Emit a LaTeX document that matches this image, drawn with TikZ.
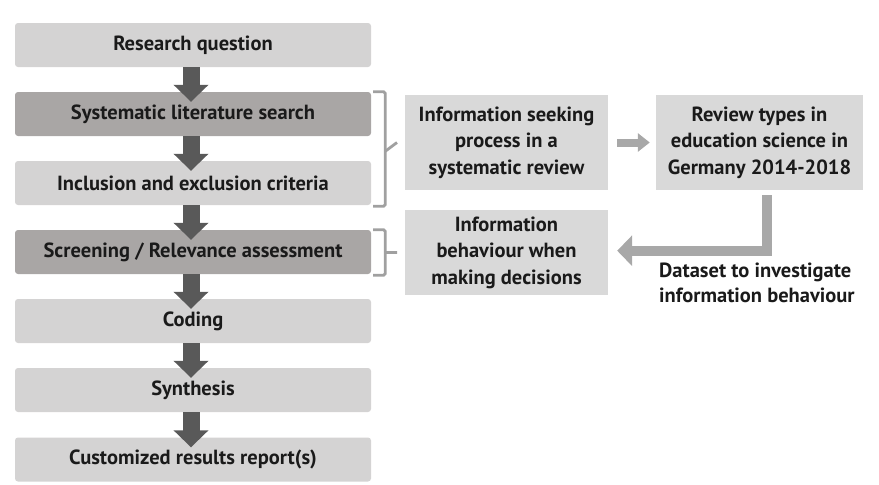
\documentclass[tikz,border=0pt]{standalone}
\usepackage{fontspec}
\setmainfont{PT Sans}
\usetikzlibrary{arrows.meta,calc}
\definecolor{boxlight}{HTML}{D4D3D3}
\definecolor{boxdark}{HTML}{A9A6A5}
\definecolor{boxright}{HTML}{D9D9D9}
\definecolor{arrdark}{HTML}{595959}
\definecolor{arrlight}{HTML}{A8A8A8}
\definecolor{brk}{HTML}{A0A0A0}
\definecolor{txt}{HTML}{1A1A1A}
\begin{document}
\begin{tikzpicture}[x=1pt,y=-1pt,
  every node/.style={font=\fontsize{20.5}{26.5}\selectfont\bfseries, text=txt, inner sep=0pt},
  stepbox/.style={fill=boxlight, rounded corners=3pt, minimum width=356pt, minimum height=44pt},
  darkbox/.style={stepbox, fill=boxdark},
  sidebox/.style={fill=boxright, align=center, minimum width=203pt},
  downarrow/.style={draw=arrdark, line width=17pt, -{Triangle[width=34pt,length=17pt]}},
  brace/.style={draw=brk, line width=2.8pt, rounded corners=1.5pt},
]
\useasboundingbox (0,0) rectangle (879,485);
\node[stepbox] (b1) at (193,45) {Research question};
\node[darkbox] (b2) at (193,114) {Systematic literature search};
\node[stepbox] (b3) at (193,183) {Inclusion and exclusion criteria};
\node[darkbox] (b4) at (193,252) {Screening / Relevance assessment};
\node[stepbox] (b5) at (193,321) {Coding};
\node[stepbox] (b6) at (193,390) {Synthesis};
\node[stepbox] (b7) at (193,459.5) {Customized results report(s)};

\foreach \a/\b in {b1/b2,b2/b3,b3/b4,b4/b5,b5/b6,b6/b7}
  \draw[downarrow] ([xshift=-2pt]\a.south) -- ([xshift=-2pt,yshift=-10pt]\b.north);

\node[sidebox, minimum height=95pt] (ra) at (506.5,142.5) {Information seeking\\process in a\\systematic review};
\node[sidebox, minimum width=207pt, minimum height=95pt] (rb) at (759.5,142.5) {Review types in\\education science in\\Germany 2014-2018};
\node[sidebox, minimum height=85pt] (rc) at (506.5,252.5) {Information\\behaviour when\\making decisions};
\node[align=left, anchor=base west, font=\fontsize{20.5}{25}\selectfont\bfseries] (lab) at (659,302) {Dataset to investigate\\information behaviour};

% brackets
\coordinate (k1a) at ($(b2.north east)+(2,0)$);
\coordinate (k1b) at ($(b3.south east)+(2,1)$);
\draw[brace] (k1a) -- ++(12,0) |- (k1b);
\draw[brace] ($(k1a)!0.52!(k1b)+(12,0)$) -- (ra.west -| 397,0);
\coordinate (k2a) at ($(b4.north east)+(2,0)$);
\coordinate (k2b) at ($(b4.south east)+(2,1)$);
\draw[brace] (k2a) -- ++(12,0) |- (k2b);
\draw[brace] ($(k2a)!0.5!(k2b)+(12,0)$) -- (rc.west -| 397,0);

% right arrows
\draw[draw=arrlight, line width=8pt, -{Triangle[width=18pt,length=12pt]}] ([xshift=9pt]ra.east) -- ([xshift=-6pt]rb.west);
\coordinate (turn) at ($(rb.south)+(7.5,60.5)$);
\draw[draw=arrlight, line width=10pt, -{Triangle[width=30pt,length=15pt]}] ([xshift=7.5pt,yshift=-5pt]rb.south) -- (turn) -- ([xshift=9pt]turn -| rc.east);
\end{tikzpicture}
\end{document}
